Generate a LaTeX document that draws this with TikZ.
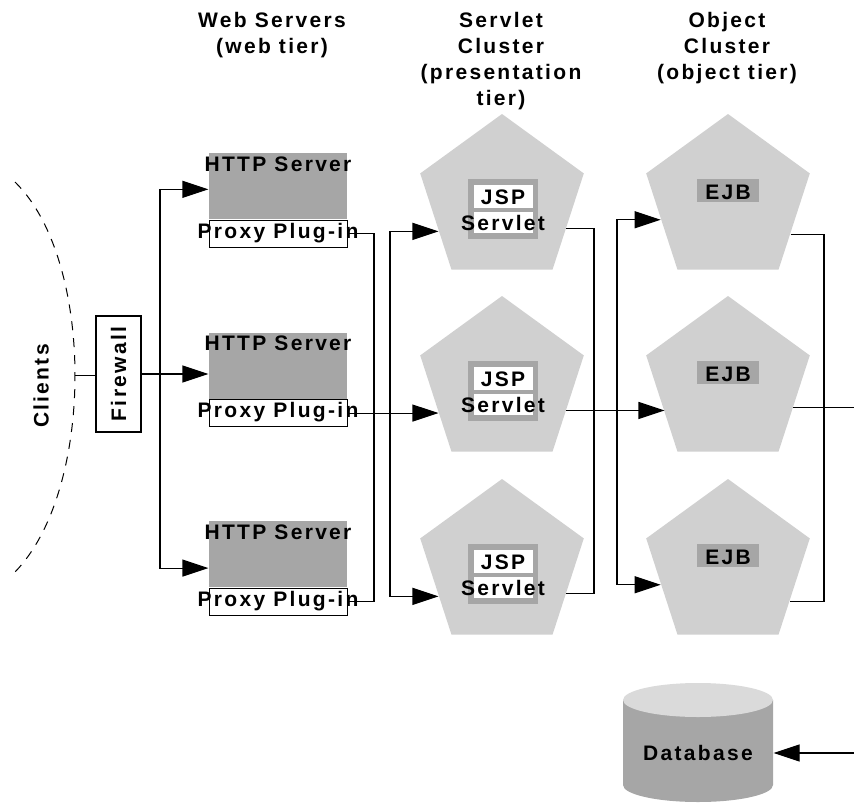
\documentclass[tikz,border=0pt]{standalone}
\usepackage{fontspec}
\newfontfamily\lbfont{Liberation Sans}[LetterSpace=11]
\usetikzlibrary{calc,positioning,shapes.geometric,arrows.meta}
\definecolor{boxgray}{HTML}{A6A6A6}
\definecolor{pentgray}{HTML}{D0D0D0}
\definecolor{dbtop}{HTML}{DADADA}

\begin{document}
\begin{tikzpicture}[x=1pt,y=1pt,>={Triangle[length=26pt,width=17pt]},line width=1.1pt,
    lbl/.style={font=\lbfont\bfseries\fontsize{21}{26}\selectfont,align=center,inner sep=0},
    http/.style={lbl,fill=boxgray,minimum width=138pt,text height=18pt,text depth=48pt},
    plug/.style={lbl,draw,fill=white,line width=1pt,minimum width=138pt,text height=18pt,text depth=9pt},
    fwbox/.style={lbl,draw,line width=2.5pt,minimum width=45pt,minimum height=116pt},
    pent/.style={regular polygon,regular polygon sides=5,minimum size=172pt,inner sep=0,fill=pentgray},
    sltframe/.style={fill=boxgray,minimum width=70pt,minimum height=60pt,inner sep=0},
    jspbox/.style={lbl,fill=white,minimum width=59pt,text height=19pt,text depth=4pt},
    sltbox/.style={lbl,fill=white,minimum width=59pt,text height=18pt,text depth=3pt},
    ejbbox/.style={lbl,fill=boxgray,minimum width=62pt,text height=20pt,text depth=3pt}]
    \useasboundingbox (0,0) rectangle (854,-803);
    \node[lbl,anchor=base] (webhd) at (272,-53) {Web Servers\\(web tier)};
    \node[lbl,anchor=base] (slthd) at (501,-105) {Servlet\\Cluster\\(presentation\\tier)};
    \node[lbl,anchor=base] (objhd) at (727,-79) {Object\\Cluster\\(object tier)};
    \node[lbl,rotate=90] (cli) at (41,-386) {Clients};
    \draw[line width=1pt,dash pattern=on 9pt off 8pt] (15,-182) .. controls (95,-260) and (95,-490) .. (15,-572) coordinate[pos=.5] (arc);
    \node[fwbox] (fw) at (118.5,-374) {\rotatebox{90}{Firewall}};
    \node[http] (w1) at (278,-186) {\makebox[0pt]{HTTP Server}};
    \node[plug,below=0pt of w1] (pp1) {\makebox[0pt]{Proxy Plug-in}};
    \node[http] (w2) at (278,-365.5) {\makebox[0pt]{HTTP Server}};
    \node[plug,below=0pt of w2] (pp2) {\makebox[0pt]{Proxy Plug-in}};
    \node[http] (w3) at (278,-554) {\makebox[0pt]{HTTP Server}};
    \node[plug,below=0pt of w3] (pp3) {\makebox[0pt]{Proxy Plug-in}};
    \node[pent] (sv1) at (502,-200) {};
    \node[sltframe] (sf1) at ($(sv1)+(1,-9)$) {};
    \node[jspbox] (jsp1) at ($(sv1)+(1,3.5)$) {JSP};
    \node[sltbox] (slt1) at ($(sv1)+(1,-22.5)$) {\makebox[0pt]{Servlet}};
    \node[pent] (sv2) at (502,-382) {};
    \node[sltframe] (sf2) at ($(sv2)+(1,-9)$) {};
    \node[jspbox] (jsp2) at ($(sv2)+(1,3.5)$) {JSP};
    \node[sltbox] (slt2) at ($(sv2)+(1,-22.5)$) {\makebox[0pt]{Servlet}};
    \node[pent] (sv3) at (502,-565) {};
    \node[sltframe] (sf3) at ($(sv3)+(1,-9)$) {};
    \node[jspbox] (jsp3) at ($(sv3)+(1,3.5)$) {JSP};
    \node[sltbox] (slt3) at ($(sv3)+(1,-22.5)$) {\makebox[0pt]{Servlet}};
    \node[pent] (ej1) at (728,-200) {};
    \node[ejbbox] (ejb1) at ($(ej1)+(0,9.5)$) {EJB};
    \node[pent] (ej2) at (728,-382) {};
    \node[ejbbox] (ejb2) at ($(ej2)+(0,9.5)$) {EJB};
    \node[pent] (ej3) at (728,-565) {};
    \node[ejbbox] (ejb3) at ($(ej3)+(0,9.5)$) {EJB};
    \fill[boxgray] (623,-700) -- (623,-785) arc[start angle=180,end angle=360,x radius=75,y radius=17] -- (773,-700) -- cycle;
    \fill[dbtop] (698,-700) ellipse[x radius=75,y radius=17];
    \node[lbl,minimum width=150pt] (db) at (698,-753) {Database};
    \coordinate (tr) at (160,-374);
    \coordinate (t1) at ($(w1.north west)!.55!(w1.south west)$);
    \coordinate (t3) at ($(w3.north west)!.71!(w3.south west)$);
    \draw (arc) -- (arc -| fw.west);
    \draw[->] (fw.east) -- (fw.east -| w2.west);
    \draw[<->] (t1) -| (tr) |- (t3);
    \coordinate (b1) at (374,0);
    \coordinate (b2) at (390,0);
    \coordinate (a1) at ($(sv1.corner 2)!.6!(sv1.corner 3)$);
    \coordinate (a2) at ($(sv2.corner 2)!.6!(sv2.corner 3)$);
    \coordinate (a3) at ($(sv3.corner 2)!.6!(sv3.corner 3)$);
    \draw (pp1.east) -| (b1 |- pp3.east) -- (pp3.east);
    \draw[<->] (a1) -| (b2 |- a3) -- (a3);
    \draw[->] (pp2.east) -- (pp2.east -| a2);
    \coordinate (b3) at (594,0);
    \coordinate (b4) at (617,0);
    \coordinate (o1) at ($(sv1.corner 5)!.57!(sv1.corner 4)$);
    \coordinate (o2) at ($(sv2.corner 5)!.57!(sv2.corner 4)$);
    \coordinate (o3) at ($(sv3.corner 5)!.57!(sv3.corner 4)$);
    \coordinate (e1) at ($(ej1.corner 2)!.48!(ej1.corner 3)$);
    \coordinate (e2) at ($(ej2.corner 2)!.6!(ej2.corner 3)$);
    \coordinate (e3) at ($(ej3.corner 2)!.48!(ej3.corner 3)$);
    \draw (o1) -| (b3 |- o3) -- (o3);
    \draw[<->] (e1) -| (b4 |- e3) -- (e3);
    \draw[->] (o2) -- (o2 -| e2);
    \coordinate (b5) at (824,0);
    \coordinate (rim) at (854,0);
    \coordinate (q1) at ($(ej1.corner 5)!.63!(ej1.corner 4)$);
    \coordinate (q2) at ($(ej2.corner 5)!.54!(ej2.corner 4)$);
    \coordinate (q3) at ($(ej3.corner 5)!.65!(ej3.corner 4)$);
    \draw (q1) -| (b5 |- q3) -- (q3);
    \draw (q2) -- (q2 -| rim);
    \draw[->] (db.east -| rim) -- (db.east);
\end{tikzpicture}
\end{document}
